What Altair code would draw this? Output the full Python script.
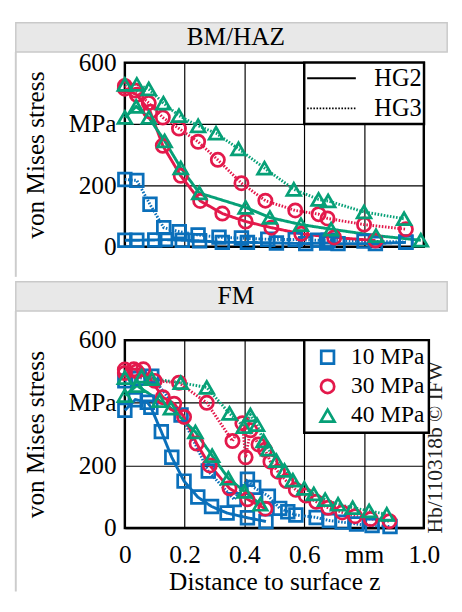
import altair as alt
import pandas as pd

# ---------------- texts / categories ----------------
panels = ["BM/HAZ", "FM"]
loads = ["10 MPa", "30 MPa", "40 MPa"]
grades = ["HG2", "HG3"]
colors = ["#0a6fba", "#e3194b", "#06a077"]
shapes = ["square", "circle", "triangle-up"]
x_ticks = [0, 0.2, 0.4, 0.6, 0.8, 1.0]
y_ticks = [0, 200, 400, 600]
x_title = "Distance to surface z"
y_title = "von Mises stress"
watermark = ["Hb/110318b © IFW"]

# ---------------- BM/HAZ panel ----------------
bm_10_hg2_x = [0.0, 0.04, 0.1, 0.136, 0.192, 0.25, 0.326, 0.41, 0.507, 0.605, 0.675, 0.713, 0.838, 0.94]
bm_10_hg2_y = [21, 21, 22, 23, 21, 19, 14, 14, 12, 10, 12, 10, 10, 14]
bm_10_hg3_x = [0.0, 0.04, 0.084, 0.13, 0.182, 0.245, 0.315, 0.39, 0.478, 0.57, 0.645, 0.68, 0.80, 0.94]
bm_10_hg3_y = [219, 216, 138, 62, 49, 38, 31, 28, 24, 23, 21, 21, 18, 15]

bm_30_hg2_x = [0.0, 0.04, 0.085, 0.127, 0.187, 0.252, 0.326, 0.404, 0.49, 0.59, 0.70, 0.838]
bm_30_hg2_y = [515, 495, 440, 329, 231, 149, 108, 82, 62, 42, 30, 20]
bm_30_hg3_x = [0.0, 0.035, 0.08, 0.127, 0.181, 0.245, 0.311, 0.39, 0.47, 0.57, 0.648, 0.678, 0.80, 0.94]
bm_30_hg3_y = [524, 509, 468, 421, 385, 342, 283, 207, 150, 118, 106, 92, 72, 57]

bm_40_hg2_x = [0.0, 0.038, 0.08, 0.133, 0.187, 0.249, 0.404, 0.485, 0.589, 0.69, 0.84, 0.99]
bm_40_hg2_y = [421, 457, 421, 345, 257, 175, 128, 95, 72, 57, 36, 21]
bm_40_hg3_x = [0.0, 0.04, 0.08, 0.129, 0.181, 0.245, 0.305, 0.38, 0.467, 0.565, 0.648, 0.68, 0.80, 0.934]
bm_40_hg3_y = [529, 529, 514, 468, 427, 394, 370, 319, 256, 187, 154, 149, 113, 91]

# ---------------- FM panel ----------------
fm_10_hg2_x = [0.0, 0.035, 0.075, 0.087, 0.122, 0.157, 0.198, 0.244, 0.29, 0.342, 0.41, 0.472]
fm_10_hg2_y = [376, 410, 402, 386, 308, 226, 150, 99, 69, 48, 33, 21]
fm_10_hg3_x = [0.0, 0.045, 0.09, 0.188, 0.279, 0.366, 0.41, 0.431, 0.48, 0.518, 0.545, 0.572, 0.64, 0.684, 0.727, 0.775, 0.827, 0.887]
fm_10_hg3_y = [470, 478, 485, 361, 182, 91, 156, 130, 102, 63, 52, 42, 34, 24, 19, 13, 8, 5]

fm_30_hg2_x = [0.0, 0.03, 0.062, 0.127, 0.165, 0.198, 0.24, 0.284, 0.35, 0.41, 0.47]
fm_30_hg2_y = [506, 507, 507, 418, 397, 355, 270, 200, 127, 92, 62]
fm_30_hg3_x = [0.0, 0.04, 0.1, 0.181, 0.274, 0.36, 0.393, 0.404, 0.42, 0.447, 0.469, 0.487, 0.512, 0.54, 0.572, 0.605, 0.64, 0.68, 0.727, 0.77, 0.822, 0.885]
fm_30_hg3_y = [495, 500, 470, 464, 400, 278, 335, 226, 312, 267, 250, 212, 180, 150, 122, 104, 84, 65, 50, 38, 29, 22]

fm_40_hg2_x = [0.0, 0.04, 0.116, 0.154, 0.236, 0.292, 0.346, 0.4, 0.453]
fm_40_hg2_y = [423, 455, 407, 383, 307, 231, 159, 117, 76]
fm_40_hg3_x = [0.0, 0.056, 0.09, 0.187, 0.274, 0.35, 0.398, 0.42, 0.442, 0.464, 0.48, 0.507, 0.534, 0.562, 0.6, 0.632, 0.67, 0.713, 0.762, 0.817, 0.876]
fm_40_hg3_y = [480, 485, 477, 464, 449, 366, 324, 361, 330, 278, 252, 215, 184, 153, 127, 109, 91, 76, 65, 55, 44]

series = [
    ("BM/HAZ", "10 MPa", "HG2", bm_10_hg2_x, bm_10_hg2_y),
    ("BM/HAZ", "10 MPa", "HG3", bm_10_hg3_x, bm_10_hg3_y),
    ("BM/HAZ", "30 MPa", "HG2", bm_30_hg2_x, bm_30_hg2_y),
    ("BM/HAZ", "30 MPa", "HG3", bm_30_hg3_x, bm_30_hg3_y),
    ("BM/HAZ", "40 MPa", "HG2", bm_40_hg2_x, bm_40_hg2_y),
    ("BM/HAZ", "40 MPa", "HG3", bm_40_hg3_x, bm_40_hg3_y),
    ("FM", "10 MPa", "HG2", fm_10_hg2_x, fm_10_hg2_y),
    ("FM", "10 MPa", "HG3", fm_10_hg3_x, fm_10_hg3_y),
    ("FM", "30 MPa", "HG2", fm_30_hg2_x, fm_30_hg2_y),
    ("FM", "30 MPa", "HG3", fm_30_hg3_x, fm_30_hg3_y),
    ("FM", "40 MPa", "HG2", fm_40_hg2_x, fm_40_hg2_y),
    ("FM", "40 MPa", "HG3", fm_40_hg3_x, fm_40_hg3_y),
]

rows = []
for panel, load, grade, xs, ys in series:
    for i, (xv, yv) in enumerate(zip(xs, ys)):
        rows.append({"panel": panel, "load": load, "grade": grade,
                     "key": f"{panel}|{load}|{grade}", "i": i, "x": xv, "y": yv})
df = pd.DataFrame(rows)

FONT = "Liberation Serif"
PW = 307
x_scale = alt.Scale(domain=[0, 1], nice=False, zero=False)
y_scale = alt.Scale(domain=[0, 600], nice=False)
color_scale = alt.Scale(domain=loads, range=colors)
shape_scale = alt.Scale(domain=loads, range=shapes)
size_scale = alt.Scale(domain=loads, range=[170, 200, 260])
dash_scale = alt.Scale(domain=grades, range=[[1, 0], [1.6, 1.6]])

y_axis = alt.Axis(values=y_ticks, labelExpr="datum.value == 400 ? 'MPa' : datum.label",
                  ticks=False, domain=False, grid=True, title=y_title,
                  labelPadding=9, titlePadding=20, labelOverlap=False)

RIGHT = 331  # right end of the decorations, in plot pixels


def panel_chart(name, height, bottom_axis, hdr_top, border_end):
    d = df[df.panel == name]
    if bottom_axis:
        x_axis = alt.Axis(values=x_ticks, ticks=False, domain=False, grid=True, title=x_title,
                          labelExpr="datum.value == 0.8 ? 'mm' : (datum.value == 0 ? '0' : format(datum.value, '.1f'))",
                          labelPadding=14, titlePadding=2, labelFlush=False, labelOverlap=False)
        dash_legend = None
        load_legend = alt.Legend(title=None, orient="none", legendX=184.2, legendY=0,
                                 labelFont=FONT, labelFontSize=24, labelColor="black",
                                 labelLimit=200, padding=4, symbolOffset=8, labelOffset=12,
                                 clipHeight=27, rowPadding=3, fillColor="white", strokeColor="black",
                                 symbolStrokeWidth=2.8)
    else:
        x_axis = alt.Axis(values=x_ticks, ticks=False, domain=False, grid=True, labels=False, title=None)
        dash_legend = alt.Legend(title=None, orient="none", legendX=184.2, legendY=0,
                                 symbolType="stroke", symbolSize=2500, symbolStrokeColor="black",
                                 symbolStrokeWidth=2, labelFont=FONT, labelFontSize=25,
                                 labelColor="black", labelOffset=18, padding=2,
                                 clipHeight=28, rowPadding=3, fillColor="white", strokeColor="black")
        load_legend = None

    lines = alt.Chart(d).mark_line(strokeWidth=3).encode(
        x=alt.X("x:Q", scale=x_scale, axis=x_axis),
        y=alt.Y("y:Q", scale=y_scale, axis=y_axis),
        color=alt.Color("load:N", scale=color_scale, legend=load_legend),
        strokeDash=alt.StrokeDash("grade:N", scale=dash_scale, legend=dash_legend),
        detail="key:N",
        order="i:Q",
    )
    points = alt.Chart(d).mark_point(filled=False, strokeWidth=2.8, opacity=1).encode(
        x=alt.X("x:Q", scale=x_scale),
        y=alt.Y("y:Q", scale=y_scale),
        color=alt.Color("load:N", scale=color_scale, legend=load_legend),
        shape=alt.Shape("load:N", scale=shape_scale, legend=load_legend),
        size=alt.Size("load:N", scale=size_scale, legend=load_legend),
    )
    title_df = pd.DataFrame({"title": [name]})
    header = alt.Chart(title_df).mark_rect(fill="#e8e8e8", stroke="#c9c9c9", strokeWidth=1.5).encode(
        x=alt.value(-112), x2=alt.value(RIGHT), y=alt.value(hdr_top), y2=alt.value(hdr_top + 30))
    header_text = alt.Chart(title_df).mark_text(font=FONT, fontSize=26, baseline="middle",
                                                align="center", color="black").encode(
        x=alt.value(114), y=alt.value(hdr_top + 15), text="title:N")
    border = alt.Chart(title_df).mark_rule(color="#cccccc", strokeWidth=2).encode(
        x=alt.value(-112), y=alt.value(hdr_top + 30), y2=alt.value(border_end))
    layers = [header, border, header_text]
    if bottom_axis:
        wm_df = pd.DataFrame({"wm": watermark})
        wm = alt.Chart(wm_df).mark_text(font=FONT, fontSize=22, angle=270, baseline="bottom",
                                        align="center", color="#222222").encode(
            x=alt.value(RIGHT), y=alt.value(110), text="wm:N")
        layers.append(wm)
    layers += [lines, points]
    return alt.layer(*layers).properties(width=PW, height=height)


top = panel_chart("BM/HAZ", 189, False, -41, 220)
bottom = panel_chart("FM", 193, True, -60, 258)

chart = alt.vconcat(top, bottom, spacing=0).resolve_scale(
    color="independent", shape="independent", size="independent", strokeDash="independent"
).resolve_legend(
    color="independent", shape="independent", size="independent", strokeDash="independent"
).configure(font=FONT).configure_view(
    stroke="black", strokeWidth=2.5
).configure_axis(
    labelFont=FONT, titleFont=FONT, labelFontSize=26, titleFontSize=26,
    labelColor="black", titleColor="black", titleFontWeight="normal",
    gridColor="black", gridOpacity=1, gridWidth=1.2
).configure_legend(
    labelFont=FONT, labelColor="black", strokeWidth=2.5
)

chart.save("out.html", embed_options={"renderer": "svg", "actions": False})
